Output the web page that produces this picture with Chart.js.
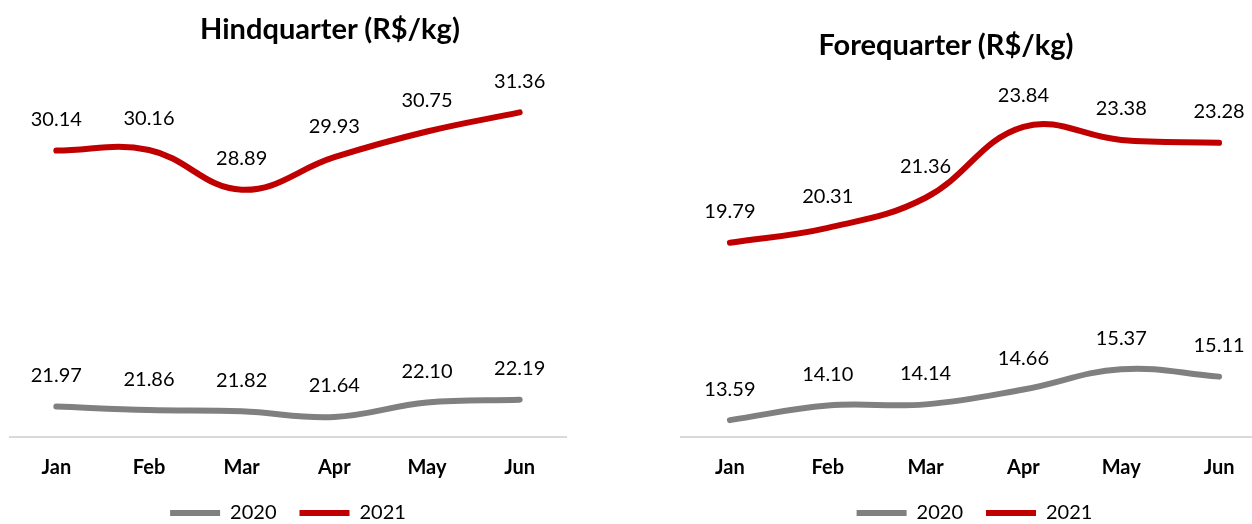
<!DOCTYPE html>
<html>
<head>
<meta charset="utf-8">
<script src="https://cdn.jsdelivr.net/npm/chart.js@4.4.0/dist/chart.umd.min.js"></script>
<style>
  html, body { margin: 0; padding: 0; background: #fff; width: 1252px; height: 524px; overflow: hidden; position: relative; }
  .panel { position: absolute; top: 0; height: 533px; }
  #hindPanel { left: 0; width: 580px; }
  #forePanel { left: 671px; width: 610px; }
  .title {
    position: absolute;
    font-family: Lato, sans-serif;
    font-weight: bold;
    font-size: 29px;
    line-height: 29px;
    color: #000;
    white-space: nowrap;
    transform: translateX(-50%);
  }
</style>
</head>
<body>
<div class="panel" id="hindPanel"><canvas id="hindChart"></canvas></div>
<div class="panel" id="forePanel"><canvas id="foreChart"></canvas></div>
<div class="title" style="left:330px; top:13px;">Hindquarter (R$/kg)</div>
<div class="title" style="left:946px; top:29px;">Forequarter (R$/kg)</div>

<script>
const months = ['Jan', 'Feb', 'Mar', 'Apr', 'May', 'Jun'];
const seriesNames = ['2020', '2021'];

const hind2020 = [21.97, 21.86, 21.82, 21.64, 22.10, 22.19];
const hind2021 = [30.14, 30.16, 28.89, 29.93, 30.75, 31.36];
const fore2020 = [13.59, 14.10, 14.14, 14.66, 15.37, 15.11];
const fore2021 = [19.79, 20.31, 21.36, 23.84, 23.38, 23.28];

const hindRange = [21, 33];
const foreRange = [13, 26];

const GREY = '#808080';
const RED = '#C00000';

Chart.defaults.font.family = 'Lato, sans-serif';
Chart.defaults.color = '#000';

// values written above each point
const valueLabels = {
  id: 'valueLabels',
  afterDatasetsDraw(chart) {
    const ctx = chart.ctx;
    ctx.save();
    ctx.font = '20px Lato, sans-serif';
    ctx.fillStyle = '#000';
    ctx.textAlign = 'center';
    ctx.textBaseline = 'middle';
    chart.data.datasets.forEach((ds, i) => {
      chart.getDatasetMeta(i).data.forEach((pt, j) => {
        ctx.fillText(ds.data[j].toFixed(2), pt.x, pt.y - 31);
      });
    });
    ctx.restore();
  }
};

function lineSet(label, data, color) {
  return {
    label: label,
    data: data,
    borderColor: color,
    backgroundColor: color,
    borderWidth: 6,
    borderCapStyle: 'round',
    borderJoinStyle: 'round',
    tension: 0.4,
    pointRadius: 0,
    pointHoverRadius: 0,
    fill: false
  };
}

function makeChart(id, data2020, data2021, range, pad) {
  return new Chart(document.getElementById(id), {
    type: 'line',
    data: {
      labels: months,
      datasets: [
        lineSet(seriesNames[0], data2020, GREY),
        lineSet(seriesNames[1], data2021, RED)
      ]
    },
    options: {
      responsive: true,
      maintainAspectRatio: false,
      animation: false,
      layout: { padding: pad },
      scales: {
        x: {
          offset: true,
          // tick marks are hidden, tickLength only spaces the labels
          grid: { display: false, drawTicks: true, tickLength: 19 },
          border: { display: true, color: '#D9D9D9', width: 2 },
          ticks: {
            padding: 0,
            color: '#000',
            font: { size: 20, weight: 'bold' }
          }
        },
        y: { display: false, min: range[0], max: range[1] }
      },
      plugins: {
        legend: {
          position: 'bottom',
          labels: {
            usePointStyle: true,
            pointStyle: 'line',
            pointStyleWidth: 50,
            padding: 23,
            color: '#000',
            font: { size: 20 }
          }
        },
        tooltip: { enabled: false }
      }
    },
    plugins: [valueLabels]
  });
}

makeChart('hindChart', hind2020, hind2021, hindRange, { top: 61, left: 10, right: 14, bottom: 0 });
makeChart('foreChart', fore2020, fore2021, foreRange, { top: 65, left: 10, right: 13, bottom: 0 });
</script>
</body>
</html>
